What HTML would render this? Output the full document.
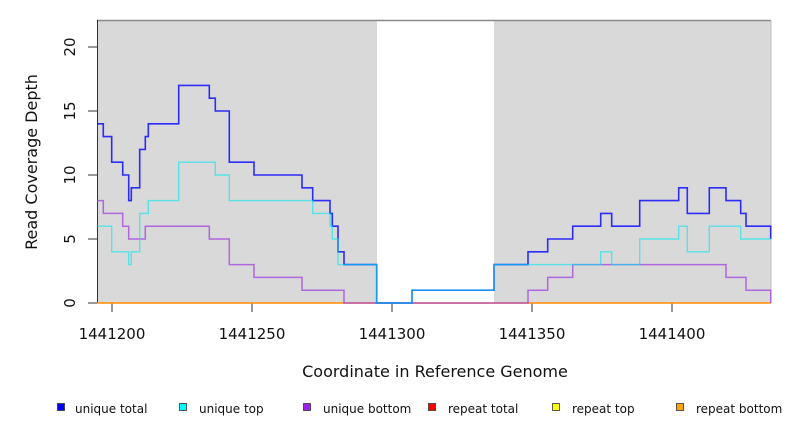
<!DOCTYPE html>
<html><head><meta charset="utf-8"><style>body{margin:0;background:#fff}svg{display:block;font-family:"DejaVu Sans","Liberation Sans",sans-serif}</style></head><body>
<svg width="792" height="432" viewBox="0 0 792 432">
<rect x="97" y="20" width="280" height="283" fill="#d9d9d9"/>
<rect x="494" y="20" width="277" height="283" fill="#d9d9d9"/>
<line x1="97" y1="20.5" x2="771" y2="20.5" stroke="#8a8a8a" stroke-width="1.5"/>
<line x1="771" y1="20" x2="771" y2="303" stroke="#bbb" stroke-width="1"/>
<line x1="97.5" y1="20" x2="97.5" y2="303" stroke="#333" stroke-width="1"/>
<g stroke="#333" stroke-width="1">
<line x1="88" y1="303" x2="97" y2="303"/><line x1="88" y1="239" x2="97" y2="239"/><line x1="88" y1="175" x2="97" y2="175"/><line x1="88" y1="111" x2="97" y2="111"/><line x1="88" y1="47" x2="97" y2="47"/>
<line x1="112" y1="303" x2="112" y2="312"/><line x1="252" y1="303" x2="252" y2="312"/><line x1="392" y1="303" x2="392" y2="312"/><line x1="532" y1="303" x2="532" y2="312"/><line x1="672" y1="303" x2="672" y2="312"/>
</g>
<g font-size="15" fill="#111" text-anchor="middle">
<text transform="translate(75,303) rotate(-90)">0</text>
<text transform="translate(75,239) rotate(-90)">5</text>
<text transform="translate(75,175) rotate(-90)">10</text>
<text transform="translate(75,111) rotate(-90)">15</text>
<text transform="translate(75,47) rotate(-90)">20</text>
<text x="112" y="339">1441200</text><text x="252" y="339">1441250</text><text x="392" y="339">1441300</text><text x="532" y="339">1441350</text><text x="672" y="339">1441400</text>
<text x="435" y="377" font-size="16">Coordinate in Reference Genome</text>
<text transform="translate(37,162) rotate(-90)" font-size="16">Read Coverage Depth</text>
</g>
<g fill="none" stroke-linejoin="miter">
<line x1="97" y1="303" x2="771" y2="303" stroke="#ff8c00" stroke-width="1.5"/>
<path stroke="#a040e0" stroke-opacity="0.75" stroke-width="1.5" d="M97,200.6 H103.3 V213.4 H122.7 V226.2 H128.7 V239 H145.3 V226.2 H209.3 V239 H229.3 V264.6 H254 V277.4 H302 V290.2 H344 V303 H528 V290.2 H547.7 V277.4 H572.7 V264.6 H726 V277.4 H746 V290.2 H770.7 V303"/>
<path stroke="#0000ff" stroke-opacity="0.8" stroke-width="1.6" d="M97,123.8 H103.3 V136.6 H111.7 V162.2 H122.7 V175 H128.7 V200.6 H131.3 V187.8 H139.7 V149.4 H145.3 V136.6 H148.3 V123.8 H178.7 V85.4 H209.3 V98.2 H215.3 V111 H229.3 V162.2 H254 V175 H302 V187.8 H312.7 V200.6 H330 V213.4 H332.3 V226.2 H338 V251.8 H344 V264.6 H376.7 V303 H412 V290.2 H494 V264.6 H528 V251.8 H547.7 V239 H572.7 V226.2 H600.7 V213.4 H611.7 V226.2 H639.7 V200.6 H678.7 V187.8 H687.3 V213.4 H709.3 V187.8 H726 V200.6 H740.7 V213.4 H746 V226.2 H770.7 V239"/>
<path stroke="#00e8f0" stroke-opacity="0.6" stroke-width="1.4" d="M97,226.2 H111.7 V251.8 H128.7 V264.6 H131.3 V251.8 H139.7 V213.4 H148.3 V200.6 H178.7 V162.2 H215.3 V175 H229.3 V200.6 H312.7 V213.4 H330 V226.2 H332.3 V239 H338 V264.6 H376.7 V303 H412 V290.2 H494 V264.6 H600.7 V251.8 H611.7 V264.6 H639.7 V239 H678.7 V226.2 H687.3 V251.8 H709.3 V226.2 H740.7 V239 H770.7"/>
</g>
<g font-size="12" fill="#111" stroke="#333" stroke-width="0.8">
<rect x="57.5" y="403.5" width="7" height="7" fill="#0000ff"/>
<rect x="179.5" y="403.5" width="7" height="7" fill="#00ffff"/>
<rect x="303.5" y="403.5" width="7" height="7" fill="#a020f0"/>
<rect x="428.5" y="403.5" width="7" height="7" fill="#ff0000"/>
<rect x="552.5" y="403.5" width="7" height="7" fill="#ffff00"/>
<rect x="676.5" y="403.5" width="7" height="7" fill="#ffa500"/>
<g stroke="none">
<text x="75" y="413">unique total</text>
<text x="199" y="413">unique top</text>
<text x="323" y="413">unique bottom</text>
<text x="448" y="413">repeat total</text>
<text x="572" y="413">repeat top</text>
<text x="696" y="413">repeat bottom</text>
</g></g>
</svg>
</body></html>
